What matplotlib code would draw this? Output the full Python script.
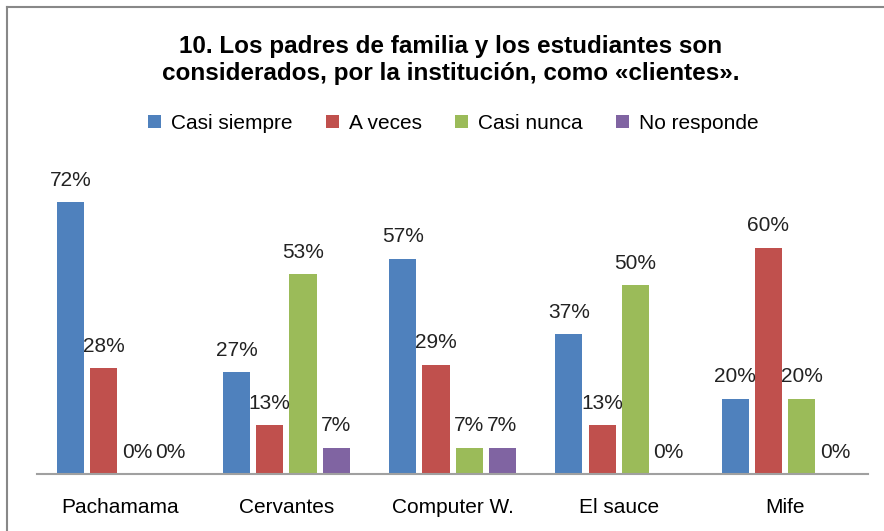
import matplotlib
matplotlib.use("Agg")
import matplotlib.pyplot as plt
import numpy as np

# datos del grafico
instituciones = ["Pachamama", "Cervantes", "Computer W.", "El sauce", "Mife"]
casi_siempre = [72, 27, 57, 37, 20]
a_veces = [28, 13, 29, 13, 60]
casi_nunca = [0, 53, 7, 50, 20]
no_responde = [0, 7, 7, 0, 0]

series = ["Casi siempre", "A veces", "Casi nunca", "No responde"]
colores = ["#4F81BD", "#C0504D", "#9BBB59", "#8064A2"]

plt.rcParams["font.family"] = ["Liberation Sans", "DejaVu Sans"]

fig = plt.figure(figsize=(8.84, 5.31), dpi=100)
ax = fig.add_axes([0.042, 0.107, 0.940, 0.569])

x = np.arange(len(instituciones))
ancho = 0.163
paso = 0.2
valores = [casi_siempre, a_veces, casi_nunca, no_responde]

handles = []
for i, vals in enumerate(valores):
    pos = x + (i - 1.5) * paso
    b = ax.bar(pos, vals, width=ancho, color=colores[i], label=series[i])
    handles.append(b)
    for p, v in zip(pos, vals):
        ax.annotate(f"{v}%", (p, v), xytext=(0, 9), textcoords="offset points",
                    ha="center", va="bottom", fontsize=15, color="#222222")

ax.set_xlim(-0.5, len(instituciones) - 0.5)
ax.set_ylim(0, 80)
ax.set_yticks([])
ax.set_xticks(x)
ax.set_xticklabels(instituciones, fontsize=15)
ax.tick_params(axis="x", length=0, pad=17)
for s in ["top", "right", "left"]:
    ax.spines[s].set_visible(False)
ax.spines["bottom"].set_color("#A0A0A0")
ax.spines["bottom"].set_linewidth(1.5)

fig.text(0.51, 0.887, "10. Los padres de familia y los estudiantes son\nconsiderados, por la institución, como «clientes».",
         ha="center", va="center", fontsize=17.5, fontweight="bold", linespacing=1.17)

fig.legend(handles=handles, loc="center", bbox_to_anchor=(0.513, 0.768), ncol=4,
           frameon=False, fontsize=15, handlelength=0.6, handleheight=0.6,
           handletextpad=0.5, columnspacing=1.6)

# borde gris del grafico
fig.add_artist(plt.Line2D([0.008, 0.008], [0, 0.987], color="#888888", lw=1.5))
fig.add_artist(plt.Line2D([0.008, 1.0], [0.987, 0.987], color="#888888", lw=1.5))

fig.savefig("out.png", dpi=100)
